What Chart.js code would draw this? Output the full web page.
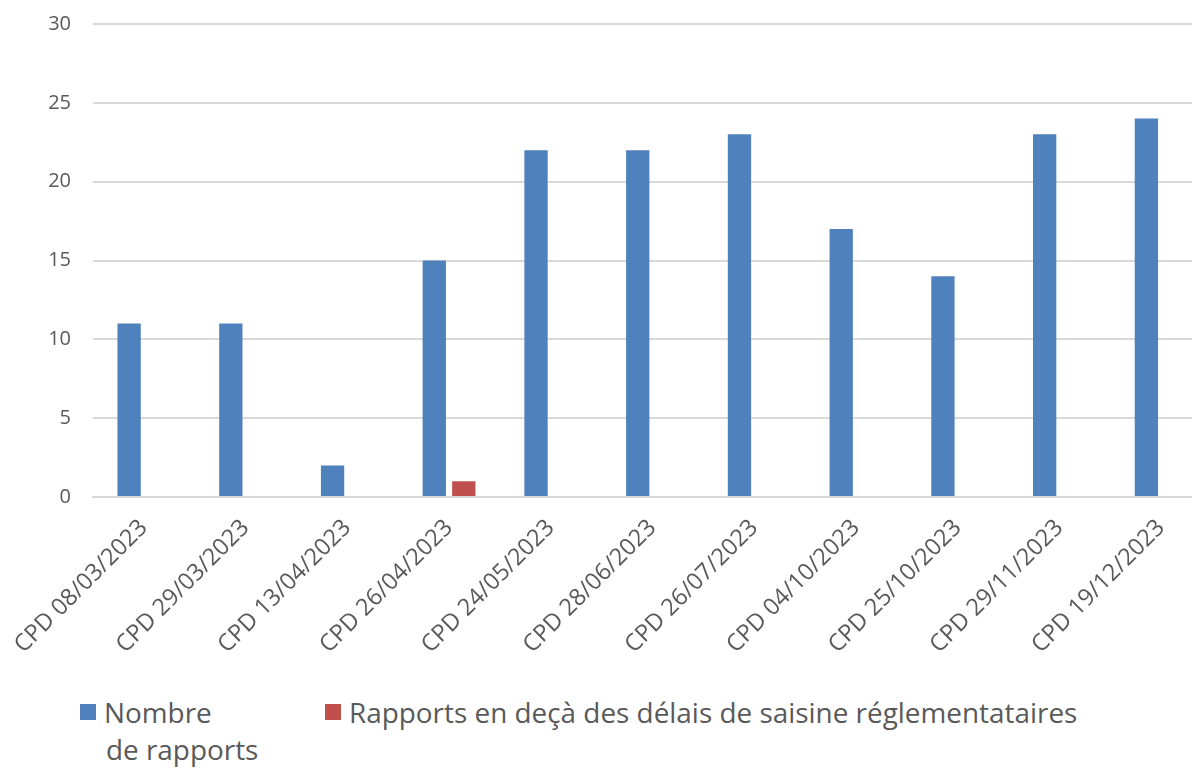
<!DOCTYPE html>
<html>
<head>
<meta charset="utf-8">
<script src="https://cdn.jsdelivr.net/npm/chart.js@4"></script>
<style>
  html, body { margin: 0; padding: 0; background: #fff; overflow: hidden; width: 1192px; height: 769px; }
  #wrap { position: absolute; left: 0; top: -10px; width: 1212px; height: 678px; }
  #legend { position: absolute; top: 694px; left: 0; font-family: 'Open Sans', sans-serif; font-size: 27.9px; color: #595959; }
  .item { position: absolute; top: 0; white-space: nowrap; line-height: 37px; }
  .box { display: inline-block; width: 16px; height: 16px; margin-right: 8px; vertical-align: 3px; }
</style>
</head>
<body>
<div id="wrap"><canvas id="chart"></canvas></div>
<div id="legend">
  <div class="item" style="left:80px"><span class="box" style="background:#4f81bd"></span>Nombre<br><span style="padding-left:26px">de rapports</span></div>
  <div class="item" style="left:325px"><span class="box" style="background:#c0504d"></span>Rapports en deçà des délais de saisine réglementataires</div>
</div>
<script>
const categories = ['CPD 08/03/2023', 'CPD 29/03/2023', 'CPD 13/04/2023', 'CPD 26/04/2023', 'CPD 24/05/2023',
    'CPD 28/06/2023', 'CPD 26/07/2023', 'CPD 04/10/2023', 'CPD 25/10/2023', 'CPD 29/11/2023', 'CPD 19/12/2023'];
const nombreRapports = [11, 11, 2, 15, 22, 22, 23, 17, 14, 23, 24];
const rapportsDelais = [0, 0, 0, 1, 0, 0, 0, 0, 0, 0, 0];
const yTicks = [0, 5, 10, 15, 20, 25, 30];

const ctx = document.getElementById('chart').getContext('2d');
new Chart(ctx, {
    type: 'bar',
    data: {
        labels: categories,
        datasets: [{
            label: 'Nombre de rapports',
            data: nombreRapports,
            backgroundColor: '#4f81bd',
            categoryPercentage: 0.58,
            barPercentage: 0.79
        }, {
            label: 'Rapports en deçà des délais de saisine réglementataires',
            data: rapportsDelais,
            backgroundColor: '#c0504d',
            categoryPercentage: 0.58,
            barPercentage: 0.79
        }]
    },
    options: {
        responsive: true,
        maintainAspectRatio: false,
        animation: false,
        layout: { padding: { left: 49, top: 0, right: 0, bottom: 0 } },
        plugins: {
            legend: { display: false },
            tooltip: { enabled: false }
        },
        scales: {
            x: {
                grid: { display: false },
                border: { color: '#d9d9d9', width: 2 },
                ticks: {
                    minRotation: 45,
                    maxRotation: 45,
                    padding: 9,
                    color: '#595959',
                    font: { family: 'Open Sans', size: 23.5 }
                }
            },
            y: {
                min: 0,
                max: 30,
                afterBuildTicks: axis => { axis.ticks = yTicks.map(v => ({ value: v })); },
                afterFit: axis => { axis.width = 44; },
                grid: { color: '#d9d9d9', lineWidth: 2, drawTicks: false },
                border: { display: false },
                ticks: {
                    padding: 22,
                    color: '#595959',
                    font: { family: 'Open Sans', size: 20 }
                }
            }
        }
    }
});
</script>
</body>
</html>
